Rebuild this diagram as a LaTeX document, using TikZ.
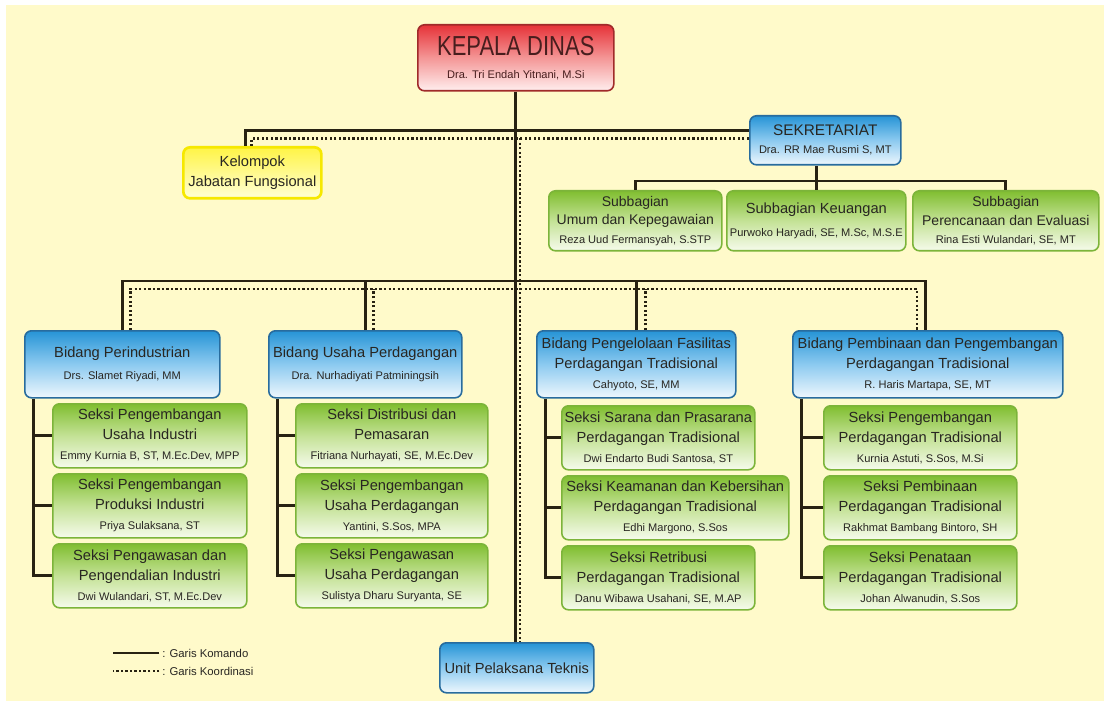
\documentclass[tikz,border=0pt]{standalone}
\usepackage{fontspec}
\setmainfont{Liberation Sans}
\usepackage{graphicx}
\usepackage{tikz}
\newlength{\pix}\setlength{\pix}{0.75pt}
\newcommand{\judul}{\fontsize{11}{15}\selectfont}
\newcommand{\nama}{\fontsize{8.3}{15}\selectfont}
\definecolor{latar}{RGB}{255,250,202}
\definecolor{teks}{RGB}{40,38,34}
\definecolor{teksmerah}{RGB}{72,30,30}
\definecolor{garis}{RGB}{40,34,18}
\definecolor{merahA}{RGB}{230,50,56}\definecolor{merahB}{RGB}{244,150,150}\definecolor{merahC}{RGB}{255,238,238}\definecolor{merahT}{RGB}{160,42,42}
\definecolor{biruA}{RGB}{38,148,214}\definecolor{biruB}{RGB}{140,202,240}\definecolor{biruC}{RGB}{238,247,253}\definecolor{biruT}{RGB}{40,108,158}
\definecolor{hijauA}{RGB}{128,190,48}\definecolor{hijauB}{RGB}{196,226,150}\definecolor{hijauC}{RGB}{246,251,236}\definecolor{hijauT}{RGB}{124,180,58}
\definecolor{kuningA}{RGB}{255,244,70}\definecolor{kuningC}{RGB}{255,255,215}\definecolor{kuningT}{RGB}{246,232,0}
\tikzset{
  kotak/.style={rounded corners=5pt, inner sep=0pt, align=center, anchor=north west, text=teks, font=\judul},
  ukuran/.style 2 args={minimum width=#1\pix, minimum height=#2\pix},
  merah/.style={kotak, draw=merahT, line width=1.2pt, top color=merahA, bottom color=merahC, middle color=merahB, text=teksmerah},
  biru/.style={kotak, draw=biruT, line width=1.2pt, top color=biruA, bottom color=biruC, middle color=biruB},
  hijau/.style={kotak, draw=hijauT, line width=1.2pt, top color=hijauA, bottom color=hijauC, middle color=hijauB},
  kuning/.style={kotak, draw=kuningT, line width=2pt, top color=kuningA, bottom color=kuningC},
  komando/.style={draw=garis, line width=2.2pt},
  koordinasi/.style={draw=garis, line width=2pt, dash pattern=on 1.7pt off 1.7pt}
}
\begin{document}
\begin{tikzpicture}[x=0.75pt, y=-0.75pt]
\useasboundingbox (0,0) rectangle (1107,706);
\fill[latar] (6,5) rectangle (1104,701);

\node[merah, ukuran={196}{66}, font=\fontsize{16.5}{17.5}\selectfont] (kd) at (417,24) {\scalebox{1}[1.25]{KEPALA DINAS}\\{\nama Dra. Tri Endah Yitnani, M.Si}};
\node[kuning, ukuran={138}{51}] (kjf) at (182,146) {Kelompok\\Jabatan Fungsional};
\node[biru, ukuran={151}{49}, font=\fontsize{11.5}{13.5}\selectfont] (sek) at (749,115) {SEKRETARIAT\\{\nama Dra. RR Mae Rusmi S, MT}};
\node[hijau, ukuran={173}{60}, font=\fontsize{10.5}{14}\selectfont] (sub1) at (548,190) {Subbagian\\Umum dan Kepegawaian\\{\nama Reza Uud Fermansyah, S.STP}};
\node[hijau, ukuran={179}{60}, font=\fontsize{11}{17}\selectfont] (sub2) at (726,190) {Subbagian Keuangan\\{\nama Purwoko Haryadi, SE, M.Sc, M.S.E}};
\node[hijau, ukuran={186}{60}, font=\fontsize{10.5}{14}\selectfont] (sub3) at (912,190) {Subbagian\\Perencanaan dan Evaluasi\\{\nama Rina Esti Wulandari, SE, MT}};

\node[biru, ukuran={195}{67}, font=\fontsize{11}{17}\selectfont] (b1) at (24,330) {Bidang Perindustrian\\{\nama Drs. Slamet Riyadi, MM}};
\node[biru, ukuran={193}{67}, font=\fontsize{11}{17}\selectfont] (b2) at (268,330) {Bidang Usaha Perdagangan\\{\nama Dra. Nurhadiyati Patminingsih}};
\node[biru, ukuran={199}{67}] (b3) at (536,330) {Bidang Pengelolaan Fasilitas\\Perdagangan Tradisional\\{\nama Cahyoto, SE, MM}};
\node[biru, ukuran={270}{67}] (b4) at (792,330) {Bidang Pembinaan dan Pengembangan\\Perdagangan Tradisional\\{\nama R. Haris Martapa, SE, MT}};

\node[hijau, ukuran={194}{64}] (s11) at (52,403) {Seksi Pengembangan\\Usaha Industri\\{\nama Emmy Kurnia B, ST, M.Ec.Dev, MPP}};
\node[hijau, ukuran={194}{64}] (s12) at (52,473) {Seksi Pengembangan\\Produksi Industri\\{\nama Priya Sulaksana, ST}};
\node[hijau, ukuran={194}{64}] (s13) at (52,543) {Seksi Pengawasan dan\\Pengendalian Industri\\{\nama Dwi Wulandari, ST, M.Ec.Dev}};
\node[hijau, ukuran={192}{64}] (s21) at (295,403) {Seksi Distribusi dan\\Pemasaran\\{\nama Fitriana Nurhayati, SE, M.Ec.Dev}};
\node[hijau, ukuran={192}{64}] (s22) at (295,473) {Seksi Pengembangan\\Usaha Perdagangan\\{\nama Yantini, S.Sos, MPA}};
\node[hijau, ukuran={192}{64}] (s23) at (295,543) {Seksi Pengawasan\\Usaha Perdagangan\\{\nama Sulistya Dharu Suryanta, SE}};
\node[hijau, ukuran={193}{64}] (s31) at (561,405) {Seksi Sarana dan Prasarana\\Perdagangan Tradisional\\{\nama Dwi Endarto Budi Santosa, ST}};
\node[hijau, ukuran={227}{64}] (s32) at (561,475) {Seksi Keamanan dan Kebersihan\\Perdagangan Tradisional\\{\nama Edhi Margono, S.Sos}};
\node[hijau, ukuran={193}{64}] (s33) at (561,545) {Seksi Retribusi\\Perdagangan Tradisional\\{\nama Danu Wibawa Usahani, SE, M.AP}};
\node[hijau, ukuran={193}{64}] (s41) at (823,405) {Seksi Pengembangan\\Perdagangan Tradisional\\{\nama Kurnia Astuti, S.Sos, M.Si}};
\node[hijau, ukuran={193}{64}] (s42) at (823,475) {Seksi Pembinaan\\Perdagangan Tradisional\\{\nama Rakhmat Bambang Bintoro, SH}};
\node[hijau, ukuran={193}{64}] (s43) at (823,545) {Seksi Penataan\\Perdagangan Tradisional\\{\nama Johan Alwanudin, S.Sos}};

\node[biru, ukuran={154}{50}] (upt) at (439,642) {Unit Pelaksana Teknis};

\coordinate (dk) at (520,138); \coordinate (h2) at (515,281); \coordinate (h3) at (520,289);
\draw[komando] (kd.south) -- (kd.south |- upt.north);
\draw[koordinasi] (dk) -- (dk |- upt.north);
\draw[komando] ([yshift=7.1pt]sek.west) -| ([xshift=-5.3pt]kjf.north);
\draw[koordinasi] ([yshift=1.1pt]sek.west) -| ([xshift=-0.8pt]kjf.north);
\draw[komando] (sub2.north) -- (sub2.north |- sek.south);
\draw[komando] (sub1.north) -- ++(0,-9) -| (sub3.north);
\draw[komando] (b1.north) |- (h2) -| ([xshift=-1.5pt]b4.north);
\draw[komando] (b2.north) -- (b2.north |- h2); \draw[komando] (b3.north) -- (b3.north |- h2);
\draw[koordinasi] ([xshift=6pt]b1.north) |- (h3) -| ([xshift=-8.2pt]b4.north);
\draw[koordinasi] ([xshift=6pt]b2.north) -- ([xshift=6pt]b2.north |- h3);
\draw[koordinasi] ([xshift=6.8pt]b3.north) -- ([xshift=6.8pt]b3.north |- h3);
\foreach \c in {1,...,4} {
  \draw[komando] ([xshift=6.8pt]b\c.south west) |- (s\c3.west);
  \foreach \r in {1,2} \draw[komando] ([xshift=6.8pt]b\c.south west |- s\c\r.west) -- (s\c\r.west);
}

\node[anchor=west, inner sep=0pt, text=teks, font=\fontsize{8.5}{10}\selectfont] (lk) at (162,653) {: Garis Komando};
\node[anchor=west, inner sep=0pt, text=teks, font=\fontsize{8.5}{10}\selectfont] (lr) at (162,671) {: Garis Koordinasi};
\draw[komando] ([xshift=-2pt]lk.west) -- ++(-46,0);
\draw[koordinasi] ([xshift=-2pt]lr.west) -- ++(-46,0);
\end{tikzpicture}
\end{document}
